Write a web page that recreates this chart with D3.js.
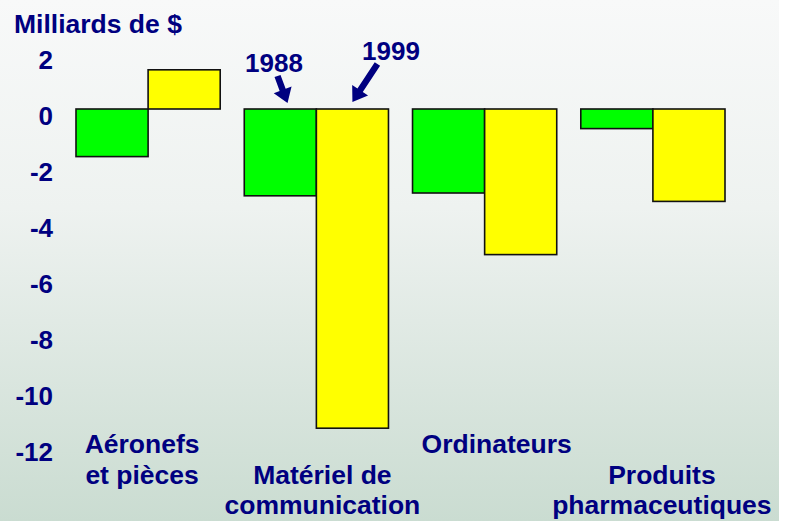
<!DOCTYPE html>
<html>
<head>
<meta charset="utf-8">
<script src="https://cdn.jsdelivr.net/npm/d3@7"></script>
<style>
  body { margin: 0; background: #ffffff; }
  svg text { font-family: "Liberation Sans", Arial, sans-serif; font-weight: bold; fill: #000080; }
</style>
</head>
<body>
<div id="chart"></div>
<script>
// data
const categories = ["Aéronefs et pièces", "Matériel de communication", "Ordinateurs", "Produits pharmaceutiques"];
const labelLines = [["Aéronefs", "et pièces"], ["Matériel de", "communication"], ["Ordinateurs"], ["Produits", "pharmaceutiques"]];
const years = ["1988", "1999"];
const values1988 = [-1.7, -3.1, -3.0, -0.7];
const values1999 = [1.4, -11.4, -5.2, -3.3];
const yTicks = [2, 0, -2, -4, -6, -8, -10, -12];

const w = 787, h = 521;
const colors = {"1988": "#00ff00", "1999": "#ffff00"};

const svg = d3.select("#chart").append("svg")
    .attr("width", w)
    .attr("height", h);

// background gradient
const grad = svg.append("defs").append("linearGradient")
    .attr("id", "bg").attr("x1", 0).attr("y1", 0).attr("x2", 0).attr("y2", 1);
grad.append("stop").attr("offset", "0%").attr("stop-color", "#f8f9f9");
grad.append("stop").attr("offset", "40%").attr("stop-color", "#eef2f0");
grad.append("stop").attr("offset", "100%").attr("stop-color", "#cadcd1");
svg.append("rect").attr("width", 779).attr("height", h).attr("fill", "url(#bg)");

// scales
const x0 = d3.scaleBand().domain(categories).range([76, 725]).paddingInner(0.143);
const x1 = d3.scaleBand().domain(years).range([0, x0.bandwidth()]);
const y = d3.scaleLinear().domain([-12, 2]).range([445, 53]);

const rows = categories.map((c, i) => ({cat: c, "1988": values1988[i], "1999": values1999[i]}));

// bars
const groups = svg.selectAll("g.grp")
    .data(rows)
    .enter().append("g")
    .attr("class", "grp")
    .attr("transform", d => "translate(" + x0(d.cat) + ",0)");

groups.selectAll("rect")
    .data(d => years.map(k => ({key: k, value: d[k]})))
    .enter().append("rect")
    .attr("x", d => x1(d.key))
    .attr("y", d => y(Math.max(0, d.value)))
    .attr("width", x1.bandwidth())
    .attr("height", d => Math.abs(y(d.value) - y(0)))
    .attr("fill", d => colors[d.key])
    .attr("stroke", "#111")
    .attr("stroke-width", 1.6);

// y axis (labels only)
const yAxis = d3.axisLeft(y).tickValues(yTicks).tickSize(0).tickPadding(0).tickFormat(d => String(d));
const gy = svg.append("g")
    .attr("transform", "translate(53,0)")
    .call(yAxis);
gy.select(".domain").remove();
gy.selectAll("text")
    .attr("y", 7)
    .style("font-size", "26px")
    .attr("fill", "#000080");

// axis title
svg.append("text")
    .attr("x", 14)
    .attr("y", 33)
    .style("font-size", "26.5px")
    .text("Milliards de $");

// category labels (staggered rows)
const labelRow = [0, 1, 0, 1];
const labelDx = [-6, 6, 12, 9];
const rowY = [453, 483.5, 514];
labelLines.forEach((lines, i) => {
  lines.forEach((t, j) => {
    svg.append("text")
      .attr("x", x0(categories[i]) + x0.bandwidth() / 2 + labelDx[i])
      .attr("y", rowY[labelRow[i] + j])
      .attr("text-anchor", "middle")
      .style("font-size", "26.5px")
      .text(t);
  });
});

// year annotations with arrows
function arrow(sx, sy, ex, ey) {
  const dx = ex - sx, dy = ey - sy, len = Math.sqrt(dx * dx + dy * dy);
  const ux = dx / len, uy = dy / len, px = -uy, py = ux;
  const sw = 3.2, hw = 9.5, hl = 14;
  const bx = ex - ux * hl, by = ey - uy * hl;
  const pts = [
    [sx + px * sw, sy + py * sw], [bx + px * sw, by + py * sw], [bx + px * hw, by + py * hw],
    [ex, ey],
    [bx - px * hw, by - py * hw], [bx - px * sw, by - py * sw], [sx - px * sw, sy - py * sw]
  ];
  svg.append("polygon").attr("points", pts.map(p => p.join(",")).join(" ")).attr("fill", "#000080");
}

const cat2 = categories[1];
const tip88x = x0(cat2) + x1("1988") + x1.bandwidth() * 0.6;
const tip99x = x0(cat2) + x1("1999") + x1.bandwidth() * 0.5;
arrow(tip88x - 10, 76, tip88x, y(0) - 6);
arrow(tip99x + 25, 64, tip99x, y(0) - 7);

svg.append("text")
    .attr("x", 274).attr("y", 72)
    .attr("text-anchor", "middle")
    .style("font-size", "26px")
    .text(years[0]);
svg.append("text")
    .attr("x", 391).attr("y", 60)
    .attr("text-anchor", "middle")
    .style("font-size", "26px")
    .text(years[1]);
</script>
</body>
</html>
